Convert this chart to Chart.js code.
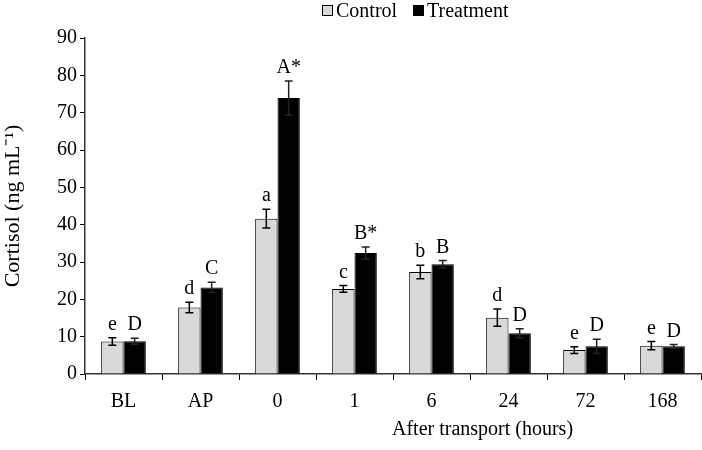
<!DOCTYPE html>
<html>
<head>
<meta charset="utf-8">
<script src="https://cdn.jsdelivr.net/npm/chart.js@4.4.1/dist/chart.umd.min.js"></script>
<style>
  html, body { margin: 0; padding: 0; background: #fff; }
  #wrap { width: 702px; height: 450px; position: relative; }
</style>
</head>
<body>
<div id="wrap"><canvas id="cortisolChart"></canvas></div>
<script>
// Cortisol after transport - Control vs Treatment

const categories = ['BL', 'AP', '0', '1', '6', '24', '72', '168'];
const control = [8.7, 17.8, 41.6, 22.8, 27.3, 15.1, 6.4, 7.6];
const controlErr = [1.0, 1.4, 2.5, 0.9, 1.8, 2.3, 0.9, 1.1];
const treatment = [8.8, 23.2, 73.9, 32.4, 29.4, 10.9, 7.4, 7.4];
const treatmentErr = [0.8, 1.4, 4.6, 1.6, 1.0, 1.2, 1.9, 0.5];
const controlLetters = ['e', 'd', 'a', 'c', 'b', 'd', 'e', 'e'];
const treatmentLetters = ['D', 'C', 'A*', 'B*', 'B', 'D', 'D', 'D'];
const yTicks = [0, 10, 20, 30, 40, 50, 60, 70, 80, 90];

const serif = '"Liberation Serif", "Times New Roman", serif';
const errs = [controlErr, treatmentErr];
const letters = [controlLetters, treatmentLetters];

// error bars, letters, legend and x title
const extras = {
  id: 'extras',
  afterDatasetsDraw(chart) {
    const ctx = chart.ctx;
    const y = chart.scales.y;
    ctx.save();
    chart.data.datasets.forEach((ds, i) => {
      const meta = chart.getDatasetMeta(i);
      meta.data.forEach((bar, j) => {
        const v = ds.data[j];
        const top = y.getPixelForValue(v + errs[i][j]);
        const bot = y.getPixelForValue(v - errs[i][j]);
        ctx.strokeStyle = i === 0 ? '#000' : '#222';
        ctx.lineWidth = 1.5;
        ctx.beginPath();
        ctx.moveTo(bar.x, top); ctx.lineTo(bar.x, bot);
        ctx.moveTo(bar.x - 4, top); ctx.lineTo(bar.x + 4, top);
        ctx.moveTo(bar.x - 4, bot); ctx.lineTo(bar.x + 4, bot);
        ctx.stroke();
        ctx.fillStyle = '#000';
        ctx.font = '20px ' + serif;
        ctx.textAlign = 'center';
        ctx.textBaseline = 'alphabetic';
        ctx.fillText(letters[i][j], bar.x, top - 8);
      });
    });

    // legend
    ctx.font = '20px ' + serif;
    ctx.textAlign = 'left';
    ctx.textBaseline = 'middle';
    const items = [
      { x: 322, label: 'Control', fill: '#d9d9d9' },
      { x: 413, label: 'Treatment', fill: '#000' }
    ];
    items.forEach(it => {
      ctx.fillStyle = it.fill;
      ctx.fillRect(it.x, 5, 10, 10);
      ctx.strokeStyle = '#000';
      ctx.lineWidth = 1;
      ctx.strokeRect(it.x + 0.5, 5.5, 10, 10);
      ctx.fillStyle = '#000';
      ctx.fillText(it.label, it.x + 14, 12);
    });

    // x axis title
    ctx.textBaseline = 'alphabetic';
    ctx.fillText('After transport (hours)', 392, 435);
    ctx.restore();
  }
};

new Chart(document.getElementById('cortisolChart'), {
  type: 'bar',
  data: {
    labels: categories,
    datasets: [{
      label: 'Control',
      data: control,
      backgroundColor: '#d9d9d9',
      borderColor: '#000',
      borderWidth: 1,
      categoryPercentage: 0.58,
      barPercentage: 1.0
    }, {
      label: 'Treatment',
      data: treatment,
      backgroundColor: '#000',
      borderColor: '#000',
      borderWidth: 1,
      categoryPercentage: 0.58,
      barPercentage: 1.0
    }]
  },
  options: {
    responsive: true,
    maintainAspectRatio: false,
    animation: false,
    layout: { padding: { top: 38, left: 0, right: 1, bottom: 0 } },
    plugins: {
      legend: { display: false },
      tooltip: { enabled: false }
    },
    scales: {
      y: {
        min: 0,
        max: 90,
        afterFit: s => { s.width = 85; },
        afterBuildTicks: s => { s.ticks = yTicks.map(v => ({ value: v })); },
        grid: { drawOnChartArea: false, drawTicks: true, tickLength: 5, color: '#000' },
        border: { color: '#333', width: 1.5 },
        ticks: { color: '#000', padding: 3, font: { family: serif, size: 20 } },
        title: {
          display: true,
          text: 'Cortisol (ng mL\u207B\u00B9)',
          color: '#000',
          font: { family: serif, size: 22 },
          padding: { top: 0, bottom: 2 }
        }
      },
      x: {
        afterFit: s => { s.height = 76; },
        grid: { drawOnChartArea: false, drawTicks: true, tickLength: 6, color: '#000', offset: true },
        border: { color: '#333', width: 1.5 },
        ticks: { color: '#000', padding: 10, font: { family: serif, size: 20 } }
      }
    }
  },
  plugins: [extras]
});
</script>
</body>
</html>
